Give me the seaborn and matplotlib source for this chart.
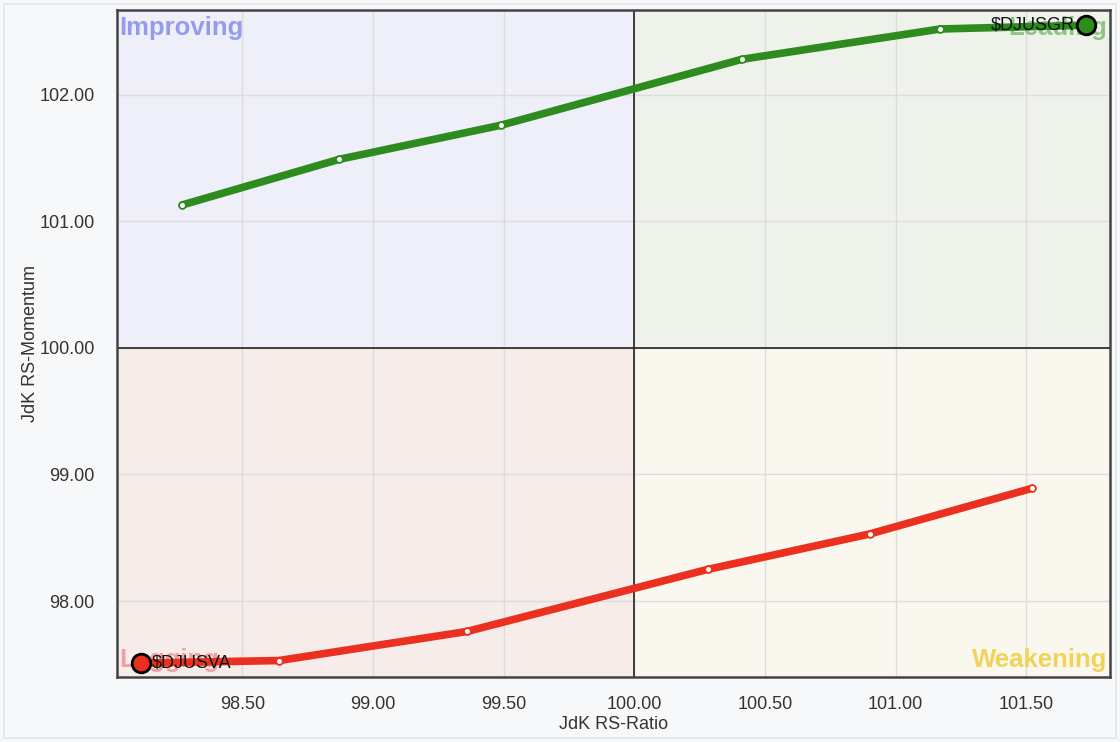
import matplotlib
matplotlib.use("Agg")
import matplotlib.pyplot as plt
import seaborn as sns
import pandas as pd
from matplotlib.patches import Rectangle

# RRG tails, oldest point first, head last
gr_ratio = [98.27, 98.87, 99.49, 100.41, 101.17, 101.73]
gr_momentum = [101.13, 101.49, 101.76, 102.28, 102.52, 102.55]
va_ratio = [101.52, 100.90, 100.28, 99.36, 98.64, 98.11]
va_momentum = [98.89, 98.53, 98.25, 97.76, 97.53, 97.51]

x_ticks = [98.5, 99.0, 99.5, 100.0, 100.5, 101.0, 101.5]
y_ticks = [98.0, 99.0, 100.0, 101.0, 102.0]

sns.set_theme(style="white")
plt.rcParams['font.family'] = ['Liberation Sans', 'DejaVu Sans']

fig = plt.figure(figsize=(11.2, 7.42), dpi=100, facecolor="#f7f8fa")
ax = fig.add_axes([117 / 1120, 1 - 677 / 742, (1110 - 117) / 1120, (677 - 10) / 742])

xmin, xmax = 98.02, 101.82
ymin, ymax = 97.40, 102.67
ax.set_xlim(xmin, xmax)
ax.set_ylim(ymin, ymax)

# quadrant backgrounds
ax.add_patch(Rectangle((xmin, 100), 100 - xmin, ymax - 100, color="#eeeff8", zorder=0))
ax.add_patch(Rectangle((100, 100), xmax - 100, ymax - 100, color="#eef2eb", zorder=0))
ax.add_patch(Rectangle((xmin, ymin), 100 - xmin, 100 - ymin, color="#f6ecea", zorder=0))
ax.add_patch(Rectangle((100, ymin), xmax - 100, 100 - ymin, color="#faf7ef", zorder=0))

ax.set_xticks(x_ticks)
ax.set_yticks(y_ticks)
ax.set_xticklabels([f"{v:.2f}" for v in x_ticks])
ax.set_yticklabels([f"{v:.2f}" for v in y_ticks])
ax.grid(True, color="#dcdcdc", linewidth=1, zorder=1)
ax.set_axisbelow(True)
ax.tick_params(axis="x", labelsize=13, colors="#333333", length=0, pad=14)
ax.tick_params(axis="y", labelsize=13, colors="#333333", length=0, pad=16)
ax.axvline(100, color="#222222", linewidth=1.2, zorder=2)
ax.axhline(100, color="#222222", linewidth=1.2, zorder=2)
for s in ax.spines.values():
    s.set_color("#444444")
    s.set_linewidth(1.8)

# quadrant names
qkw = dict(fontsize=18.5, fontweight="bold", zorder=3)
ax.text(xmin + 0.01, ymax - 0.05, "Improving", color="#949cec", ha="left", va="top", **qkw)
ax.text(xmax - 0.01, ymax - 0.05, "Leading", color="#8fc486", ha="right", va="top", **qkw)
ax.text(xmin + 0.01, ymin + 0.04, "Lagging", color="#f0a0a0", ha="left", va="bottom", **qkw)
ax.text(xmax - 0.01, ymin + 0.04, "Weakening", color="#f0d458", ha="right", va="bottom", **qkw)

tails = [
    ("$DJUSGR", gr_ratio, gr_momentum, "#2e8b1e", "right"),
    ("$DJUSVA", va_ratio, va_momentum, "#ec3020", "left"),
]
for name, xs, ys, col, ha in tails:
    df = pd.DataFrame({"ratio": xs, "momentum": ys})
    sns.lineplot(data=df, x="ratio", y="momentum", sort=False, color=col,
                 linewidth=5.5, ax=ax, zorder=4, solid_capstyle="round",
                 solid_joinstyle="round")
    sns.scatterplot(data=df.iloc[:-1], x="ratio", y="momentum", color="white",
                    edgecolor=col, linewidth=1.3, s=24, ax=ax, zorder=5)
    sns.scatterplot(data=df.iloc[-1:], x="ratio", y="momentum", color=col,
                    edgecolor="black", linewidth=2, s=180, ax=ax, zorder=6)
    off = -0.045 if ha == "right" else 0.045
    ax.text(xs[-1] + off, ys[-1], name, ha=ha, va="center", fontsize=13,
            color="#111111", zorder=7)

ax.set_xlabel("JdK RS-Ratio", fontsize=13, color="#333333", labelpad=2)
ax.set_ylabel("JdK RS-Momentum", fontsize=13, color="#333333")
ax.yaxis.set_label_coords((39 - 117) / 993, 0.5)

fig.patches.append(Rectangle((4 / 1120, 4 / 742), 1 - 8 / 1120, 1 - 8 / 742,
                             transform=fig.transFigure, fill=False,
                             edgecolor="#e2e4e8", linewidth=1.2))

fig.savefig("out.png", dpi=100, facecolor=fig.get_facecolor())
